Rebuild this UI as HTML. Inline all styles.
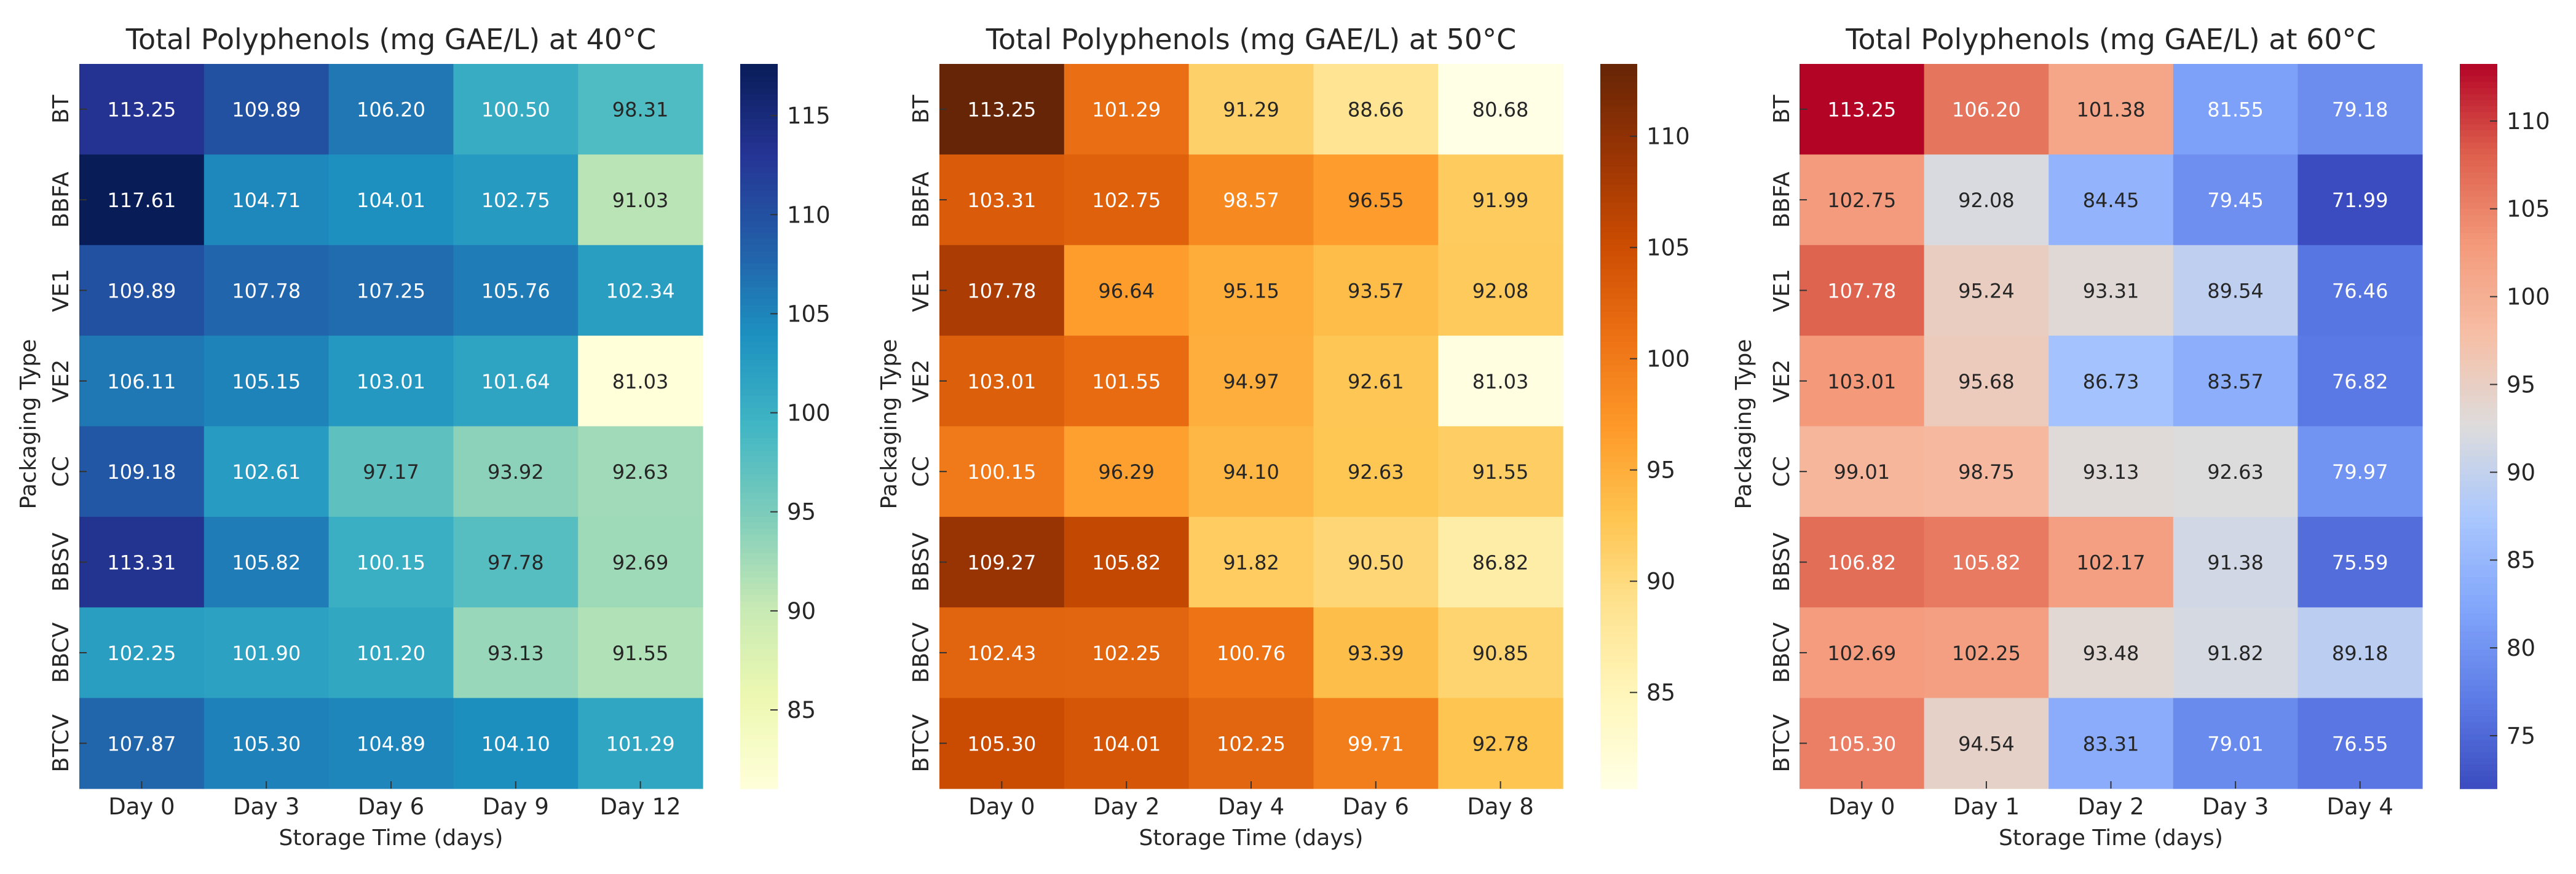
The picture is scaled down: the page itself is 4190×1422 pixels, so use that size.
<!DOCTYPE html>
<html><head><meta charset="utf-8"><style>
html,body{margin:0;padding:0;background:#fff;}
svg{display:block;font-family:"DejaVu Sans","Liberation Sans",sans-serif;}
</style></head><body>
<svg id="fig" width="4190" height="1422" viewBox="0 0 4190 1422" xmlns="http://www.w3.org/2000/svg"></svg>
<script>
const rows = ["BT","BBFA","VE1","VE2","CC","BBSV","BBCV","BTCV"];
const days40 = ["Day 0","Day 3","Day 6","Day 9","Day 12"];
const days50 = ["Day 0","Day 2","Day 4","Day 6","Day 8"];
const days60 = ["Day 0","Day 1","Day 2","Day 3","Day 4"];
const vals40 = [
 [113.25,109.89,106.20,100.50,98.31],
 [117.61,104.71,104.01,102.75,91.03],
 [109.89,107.78,107.25,105.76,102.34],
 [106.11,105.15,103.01,101.64,81.03],
 [109.18,102.61,97.17,93.92,92.63],
 [113.31,105.82,100.15,97.78,92.69],
 [102.25,101.90,101.20,93.13,91.55],
 [107.87,105.30,104.89,104.10,101.29]];
const vals50 = [
 [113.25,101.29,91.29,88.66,80.68],
 [103.31,102.75,98.57,96.55,91.99],
 [107.78,96.64,95.15,93.57,92.08],
 [103.01,101.55,94.97,92.61,81.03],
 [100.15,96.29,94.10,92.63,91.55],
 [109.27,105.82,91.82,90.50,86.82],
 [102.43,102.25,100.76,93.39,90.85],
 [105.30,104.01,102.25,99.71,92.78]];
const vals60 = [
 [113.25,106.20,101.38,81.55,79.18],
 [102.75,92.08,84.45,79.45,71.99],
 [107.78,95.24,93.31,89.54,76.46],
 [103.01,95.68,86.73,83.57,76.82],
 [99.01,98.75,93.13,92.63,79.97],
 [106.82,105.82,102.17,91.38,75.59],
 [102.69,102.25,93.48,91.82,89.18],
 [105.30,94.54,83.31,79.01,76.55]];
const ticks40 = [85,90,95,100,105,110,115];
const ticks50 = [85,90,95,100,105,110];
const ticks60 = [75,80,85,90,95,100,105,110];

const YlGnBu=["#ffffd9","#edf8b1","#c7e9b4","#7fcdbb","#41b6c4","#1d91c0","#225ea8","#253494","#081d58"];
const YlOrBr=["#ffffe5","#fff7bc","#fee391","#fec44f","#fe9929","#ec7014","#cc4c02","#993404","#662506"];
const coolwarm=["#3b4cc0","#5d7ce6","#82a6fb","#aac7fd","#dddcdc","#f6bfa6","#f49a7b","#de604d","#b40426"];

function hex(h){return [1,3,5].map(i=>parseInt(h.substr(i,2),16));}
function cmap(stops,t){
  t=Math.max(0,Math.min(1,t));
  const n=stops.length-1, p=t*n, i=Math.min(n-1,Math.floor(p)), f=p-i;
  const a=hex(stops[i]), b=hex(stops[i+1]);
  return a.map((v,k)=>Math.round(v+(b[k]-v)*f));
}
function lum(c){
  const l=c.map(v=>{v/=255;return v<=0.03928?v/12.92:Math.pow((v+0.055)/1.055,2.4);});
  return 0.2126*l[0]+0.7152*l[1]+0.0722*l[2];
}
const NS="http://www.w3.org/2000/svg";
const svg=document.getElementById('fig');
function el(tag,attrs,parent,text){
  const e=document.createElementNS(NS,tag);
  for(const k in attrs) e.setAttribute(k,attrs[k]);
  if(text!==undefined) e.textContent=text;
  (parent||svg).appendChild(e); return e;
}

function heatmap(cfg){
  const g=el('g',{});
  
  
  const flat=cfg.vals.flat(), vmin=Math.min(...flat), vmax=Math.max(...flat);
  const top=104, bot=1283, nr=rows.length, nc=cfg.cols.length;
  const cw=(cfg.x1-cfg.x0)/nc, ch=(bot-top)/nr;
  const xs=j=>cfg.x0+j*cw, ys=i=>top+i*ch;
  const cs=v=>(v-vmin)/(vmax-vmin);
  const t=el('text',{x:(cfg.x0+cfg.x1)/2,y:80,'text-anchor':'middle','font-size':46,fill:'#262626'},g,cfg.title);
  
  
  for(let i=0;i<nr;i++)for(let j=0;j<nc;j++){
    const v=cfg.vals[i][j], c=cmap(cfg.cm,cs(v));
    const r=el('rect',{x:xs(j),y:ys(i),width:cw+0.6,height:ch+0.6,fill:`rgb(${c})`},g);
    
    
    const tx=el('text',{x:xs(j)+cw/2,y:ys(i)+ch/2+12,'text-anchor':'middle','font-size':32,fill:lum(c)<0.408?'#ffffff':'#262626'},g,v.toFixed(2));
    
    
  }
  rows.forEach((r,i)=>{
    const cy=ys(i)+ch/2;
    el('line',{x1:cfg.x0,x2:cfg.x0+12,y1:cy,y2:cy,stroke:'#333','stroke-width':2},g);
    const l=el('text',{x:cfg.ylx,y:cy,'text-anchor':'middle','font-size':36,fill:'#262626',transform:`rotate(-90 ${cfg.ylx} ${cy})`,dy:13},g,r);
    
    
  });
  cfg.cols.forEach((d,j)=>{
    const cx=xs(j)+cw/2;
    el('line',{x1:cx,x2:cx,y1:bot-12,y2:bot,stroke:'#333','stroke-width':2},g);
    const l=el('text',{x:cx,y:1325,'text-anchor':'middle','font-size':37,fill:'#262626'},g,d);
    
    
  });
  const xl=el('text',{x:(cfg.x0+cfg.x1)/2,y:1375,'text-anchor':'middle','font-size':36,fill:'#262626'},g,'Storage Time (days)');
  
  
  const yl=el('text',{x:cfg.yax,y:690,'text-anchor':'middle','font-size':36,fill:'#262626',transform:`rotate(-90 ${cfg.yax} 690)`,dy:13},g,'Packaging Type');
  
  
  const cb=el('g',{},g);
  
  
  const N=120, sh=(bot-top)/N;
  for(let k=0;k<N;k++){
    const c=cmap(cfg.cm,1-(k+0.5)/N);
    el('rect',{x:cfg.cb0,y:top+k*sh,width:cfg.cb1-cfg.cb0,height:sh+0.8,fill:`rgb(${c})`},cb);
  }
  cfg.ticks.forEach(tv=>{
    const y=bot-(tv-vmin)/(vmax-vmin)*(bot-top);
    el('line',{x1:cfg.cb1-12,x2:cfg.cb1,y1:y,y2:y,stroke:'#333','stroke-width':2},cb);
    const l=el('text',{x:cfg.cb1+15,y:y+13,'font-size':37,fill:'#262626'},cb,String(tv));
    
    
  });
}
heatmap({name:'heatmap-40c',title:'Total Polyphenols (mg GAE/L) at 40°C',vals:vals40,cols:days40,ticks:ticks40,cm:YlGnBu,x0:129,x1:1143,cb0:1204,cb1:1265,ylx:98,yax:45});
heatmap({name:'heatmap-50c',title:'Total Polyphenols (mg GAE/L) at 50°C',vals:vals50,cols:days50,ticks:ticks50,cm:YlOrBr,x0:1528,x1:2542,cb0:2603,cb1:2663,ylx:1497,yax:1445});
heatmap({name:'heatmap-60c',title:'Total Polyphenols (mg GAE/L) at 60°C',vals:vals60,cols:days60,ticks:ticks60,cm:coolwarm,x0:2927,x1:3940,cb0:4001,cb1:4062,ylx:2897,yax:2835});
</script>
</body></html>
